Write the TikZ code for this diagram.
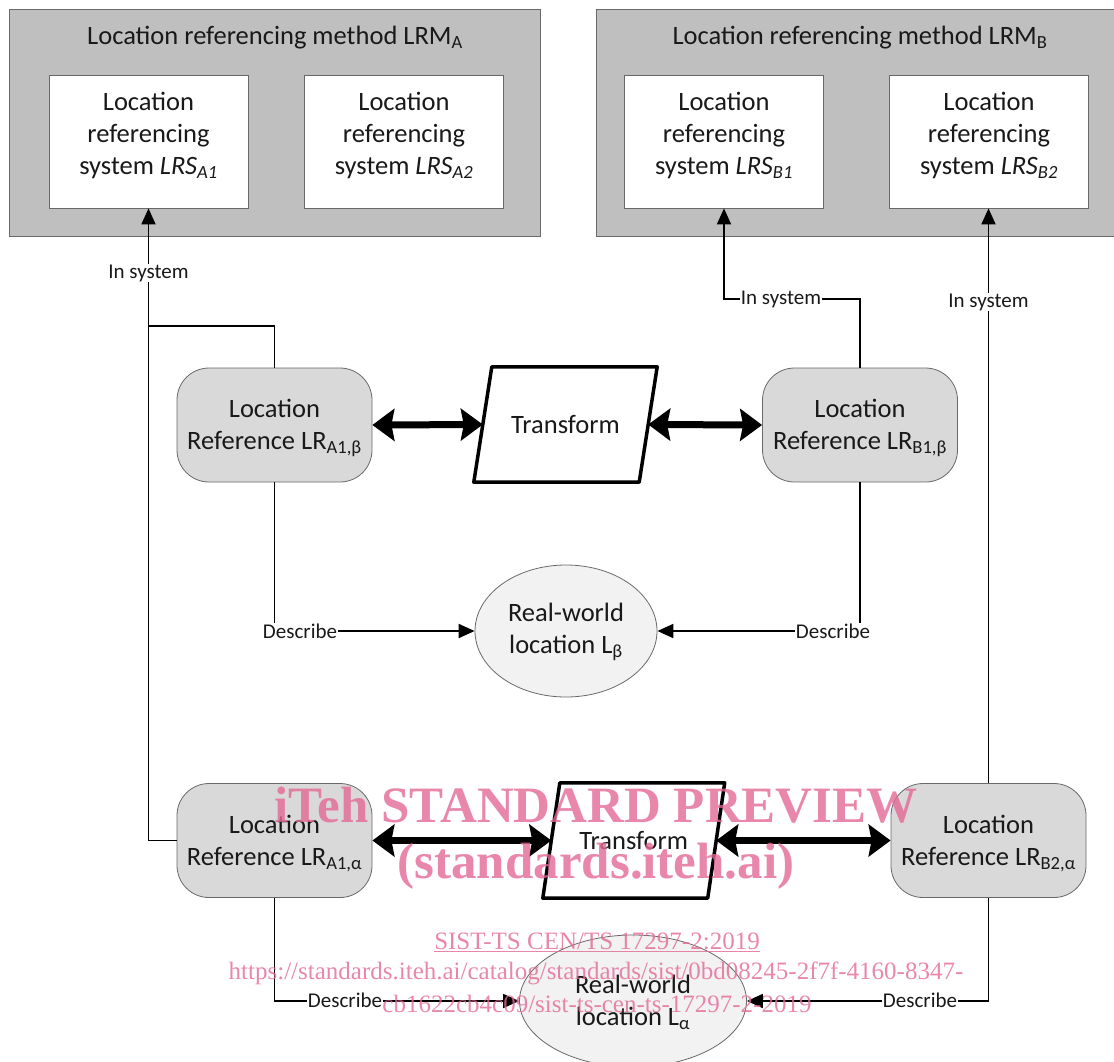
\documentclass[tikz,border=0pt]{standalone}
\usepackage{fontspec}
\setmainfont{Carlito}
\newfontfamily\wmfont{Liberation Serif}
\usetikzlibrary{arrows.meta,calc,shapes.geometric}
\pgfdeclarelayer{bg}
\pgfsetlayers{bg,main}
\definecolor{methodfill}{RGB}{191,191,191}
\definecolor{boxedge}{RGB}{105,105,105}
\definecolor{reffill}{RGB}{217,217,217}
\definecolor{locfill}{RGB}{242,242,242}
\definecolor{wmpink}{RGB}{228,105,150}
\begin{document}
\begin{tikzpicture}[x=1pt,y=1pt,
  maintext/.style={font=\fontsize{26.5}{32}\selectfont, align=center, text=black!90},
  method/.style={draw=boxedge, fill=methodfill, line width=0.8pt, inner sep=0, minimum height=227},
  system/.style={draw=boxedge, fill=white, line width=0.8pt, inner sep=0, minimum width=199, minimum height=133},
  refbox/.style={draw=boxedge, fill=reffill, line width=0.8pt, rounded corners=32pt, inner sep=0, minimum width=195, minimum height=114},
  locbox/.style={ellipse, draw=boxedge, fill=locfill, line width=0.8pt, inner sep=0},
  tfframe/.style={maintext, inner sep=0, minimum height=115},
  para/.style={draw=black, fill=white, line width=3.5pt, line join=round},
  conn/.style={line width=1.9pt, draw=black},
  arr/.style={conn, -{Triangle[length=16pt,width=14pt]}},
  bigarr/.style={line width=7pt, {Stealth[length=22pt,width=32pt,inset=3pt]}-{Stealth[length=22pt,width=32pt,inset=3pt]}},
  lbl/.style={font=\fontsize{21}{24}\selectfont, fill=white, inner sep=1pt, text=black!90},
  wm/.style={text=wmpink, text opacity=0.8, inner sep=0}
]
\path[use as bounding box] (0,0) rectangle (1114,-1061);

% method containers
\node[method, minimum width=531] (LRMA) at (274.5,-122.5) {};
\node[method, minimum width=524] (LRMB) at (858,-122.5) {};
\node[maintext] (titleA) at (275,-38) {Location referencing method LRM\textsubscript{A}};
\node[maintext] (titleB) at (860,-38) {Location referencing method LRM\textsubscript{B}};

% systems
\node[system] (LRSA1) at (148.5,-141.5) {};
\node[system] (LRSA2) at (404,-141.5) {};
\node[system] (LRSB1) at (724,-141.5) {};
\node[system] (LRSB2) at (989,-141.5) {};
\node[maintext] (tA1) at ($(LRSA1.center)+(0,6)$) {Location\\referencing\\system \textit{LRS\textsubscript{A1}}};
\node[maintext] (tA2) at ($(LRSA2.center)+(0,6)$) {Location\\referencing\\system \textit{LRS\textsubscript{A2}}};
\node[maintext] (tB1) at ($(LRSB1.center)+(0,6)$) {Location\\referencing\\system \textit{LRS\textsubscript{B1}}};
\node[maintext] (tB2) at ($(LRSB2.center)+(0,6)$) {Location\\referencing\\system \textit{LRS\textsubscript{B2}}};

% location references
\node[refbox] (LRA1b) at (274.5,-425) {};
\node[refbox] (LRB1b) at (860,-425) {};
\node[refbox] (LRA1a) at (274.5,-840.5) {};
\node[refbox] (LRB2a) at (988.5,-840.5) {};
\node[maintext] (tLRA1b) at ($(LRA1b.center)+(0,-3)$) {Location\\Reference LR\textsubscript{A1,β}};
\node[maintext] (tLRB1b) at ($(LRB1b.center)+(0,-3)$) {Location\\Reference LR\textsubscript{B1,β}};
\node[maintext] (tLRA1a) at ($(LRA1a.center)+(0,-3)$) {Location\\Reference LR\textsubscript{A1,α}};
\node[maintext] (tLRB2a) at ($(LRB2a.center)+(0,-3)$) {Location\\Reference LR\textsubscript{B2,α}};

% transforms
\node[tfframe, minimum width=165] (T1) at (565.5,-424.5) {Transform};
\node[tfframe, minimum width=164.5] (T2) at (633.75,-840.5) {Transform};
\begin{pgfonlayer}{bg}
\draw[para] ($(T1.north west)+(9,0)$) -- ($(T1.north east)+(9,0)$) -- ($(T1.south east)+(-9,0)$) -- ($(T1.south west)+(-9,0)$) -- cycle;
\draw[para] ($(T2.north west)+(8.5,0)$) -- ($(T2.north east)+(8.5,0)$) -- ($(T2.south east)+(-8.5,0)$) -- ($(T2.south west)+(-8.5,0)$) -- cycle;
\end{pgfonlayer}

% real-world locations
\node[locbox, minimum width=182, minimum height=132] (Lb) at (566,-631) {};
\node[locbox, minimum width=227, minimum height=132] (La) at (633,-1001) {};
\node[maintext] (tLb) at ($(Lb.center)+(0,-1)$) {Real-world\\location L\textsubscript{β}};
\node[maintext] (tLa) at ($(La.center)+(0,-1)$) {Real-world\\location L\textsubscript{α}};

% thick double arrows
\draw[bigarr] (LRA1b.east) -- (T1.west);
\draw[bigarr] (T1.east) -- (LRB1b.west);
\draw[bigarr] (LRA1a.east) -- (T2.west);
\draw[bigarr] (T2.east) -- (LRB2a.west);

% in system connectors
\coordinate (jA) at (LRSA1.south |- 0,-326);
\coordinate (kB) at (LRB1b.north |- 0,-299);
\draw[arr] (LRA1a.west) -| (LRSA1.south);
\draw[conn] (LRA1b.north) |- (jA);
\draw[arr] (LRB1b.north) -- (kB) -| (LRSB1.south);
\draw[arr] (LRB2a.north) -- (LRB2a.north |- LRSB2.south);

% describe connectors
\draw[arr] (LRA1b.south) |- (Lb.west);
\draw[arr] (LRB1b.south) |- (Lb.east);
\draw[arr] (LRA1a.south) |- (La.west);
\draw[arr] (LRB2a.south) |- (La.east);

% labels
\node[lbl] (isA) at (148.5,-273) {In system};
\node[lbl] (isB1) at (781,-299) {In system};
\node[lbl] (isB2) at (988.5,-302) {In system};
\node[lbl] (dA1b) at (300,-631) {Describe};
\node[lbl] (dB1b) at (833,-631) {Describe};
\node[lbl] (dA1a) at (345,-1000) {Describe};
\node[lbl] (dB2a) at (920,-1000) {Describe};

% watermark
\node[wm, font=\wmfont\bfseries\fontsize{51}{51}\selectfont] (wm1) at (596,-805) {iTeh STANDARD PREVIEW};
\node[wm, font=\wmfont\bfseries\fontsize{51}{51}\selectfont] (wm2) at (596,-866) {(standards.iteh.ai)};
\node[wm, font=\wmfont\fontsize{25}{25}\selectfont] (wm3) at (597,-942) {\underline{SIST-TS CEN/TS 17297-2:2019}};
\node[wm, font=\wmfont\fontsize{25}{25}\selectfont] (wm4) at (596,-973) {https://standards.iteh.ai/catalog/standards/sist/0bd08245-2f7f-4160-8347-};
\node[wm, font=\wmfont\fontsize{25}{25}\selectfont] (wm5) at (597,-1004) {cb1622cb4c09/sist-ts-cen-ts-17297-2-2019};
\end{tikzpicture}
\end{document}
